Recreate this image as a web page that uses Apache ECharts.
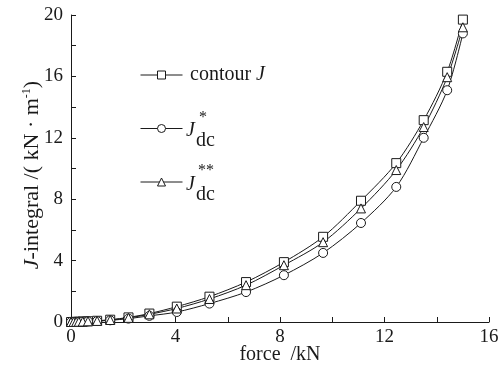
<!DOCTYPE html>
<html>
<head>
<meta charset="utf-8">
<script src="https://cdn.jsdelivr.net/npm/echarts@6/dist/echarts.min.js"></script>
<style>html,body{margin:0;padding:0;background:#fff;}#c{width:504px;height:366px;}</style>
</head>
<body>
<div id="c"></div>
<script>
var force = [0, 0.1, 0.2, 0.3, 0.45, 0.65, 1.0, 1.5, 2.2, 3.0, 4.05, 5.3, 6.7, 8.15, 9.65, 11.1, 12.45, 13.5, 14.4, 15.0];
var contourJ = [0, 0.005, 0.01, 0.02, 0.03, 0.05, 0.08, 0.15, 0.3, 0.55, 1.0, 1.65, 2.6, 3.9, 5.55, 7.9, 10.35, 13.15, 16.3, 19.7];
var Jdc1 = [0, 0.004, 0.008, 0.015, 0.025, 0.04, 0.06, 0.11, 0.22, 0.4, 0.65, 1.2, 1.95, 3.05, 4.5, 6.45, 8.8, 12.0, 15.1, 18.8];
var Jdc2 = [0, 0.005, 0.01, 0.018, 0.028, 0.045, 0.07, 0.13, 0.27, 0.5, 0.88, 1.5, 2.4, 3.7, 5.2, 7.4, 9.9, 12.7, 15.95, 19.2];
var seriesNames = ['contour J', 'J*dc', 'J**dc'];
var xTicks = [0, 4, 8, 12, 16];
var yTicks = [0, 4, 8, 12, 16, 20];

function pairs(ys) { return force.map(function (f, i) { return [f, ys[i]]; }); }
var FONT = '"Liberation Serif", "Times New Roman", serif';
var INK = '#1a1a1a';

function mkSeries(name, ys, symbol) {
  return {
    name: name, type: 'line', data: pairs(ys), smooth: 0.3,
    symbol: symbol, symbolSize: 9, clip: false,
    lineStyle: { color: INK, width: 1 },
    itemStyle: { color: '#fff', borderColor: INK, borderWidth: 1 },
    emphasis: { disabled: true }
  };
}

var chart = echarts.init(document.getElementById('c'), null, { renderer: 'canvas' });
chart.setOption({
  animation: false,
  backgroundColor: '#fff',
  grid: { left: 71, right: 15, top: 15, bottom: 44, containLabel: false, outerBoundsMode: 'none' },
  xAxis: {
    type: 'value', min: xTicks[0], max: xTicks[xTicks.length - 1], interval: 4,
    name: 'force  /kN', nameLocation: 'middle', nameGap: 23, nameMoveOverlap: false,
    nameTextStyle: { fontFamily: FONT, fontSize: 20, color: INK },
    axisLine: { lineStyle: { color: INK, width: 1 } },
    axisTick: { inside: true, length: 5, lineStyle: { color: INK } },
    minorTick: { show: true, splitNumber: 2, length: 5, lineStyle: { color: INK } },
    splitLine: { show: false },
    axisLabel: { fontFamily: FONT, fontSize: 19, color: INK, margin: 6 }
  },
  yAxis: {
    type: 'value', min: yTicks[0], max: yTicks[yTicks.length - 1], interval: 4,
    axisLine: { show: true, lineStyle: { color: INK, width: 1 } },
    axisTick: { inside: true, length: 5, lineStyle: { color: INK } },
    minorTick: { show: true, splitNumber: 2, length: 5, lineStyle: { color: INK } },
    splitLine: { show: false },
    axisLabel: { fontFamily: FONT, fontSize: 19, color: INK, margin: 8 }
  },
  legend: {
    orient: 'vertical', left: 140, top: 70, padding: 0,
    itemWidth: 42, itemHeight: 10, itemGap: 44,
    data: seriesNames,
    formatter: function () { return ''; },
    textStyle: { fontSize: 10 },
    lineStyle: { width: 1, color: INK },
    itemStyle: { borderWidth: 1 },
    selectedMode: false
  },
  graphic: [
    { type: 'text', x: 32, y: 175, rotation: Math.PI / 2,
      style: { text: '{i|J}-integral /( kN · m{sup|-1})', fontFamily: FONT, fontSize: 22, fill: INK,
        align: 'center', verticalAlign: 'middle',
        rich: {
          i: { fontFamily: FONT, fontSize: 22, fontStyle: 'italic', fill: INK },
          sup: { fontFamily: FONT, fontSize: 12, fill: INK, padding: [0, 0, 10, 0] }
        } } },
    { type: 'text', left: 190, top: 65, style: { text: 'contour {i|J}', fontFamily: FONT, fontSize: 20, fill: INK,
      rich: { i: { fontFamily: FONT, fontSize: 20, fontStyle: 'italic', fill: INK } } } },
    { type: 'text', left: 186, top: 121, style: { text: 'J', fontFamily: FONT, fontSize: 20, fontStyle: 'italic', fill: INK } },
    { type: 'text', left: 199, top: 110, style: { text: '*', fontFamily: FONT, fontSize: 16, fill: INK } },
    { type: 'text', left: 196, top: 131, style: { text: 'dc', fontFamily: FONT, fontSize: 20, fill: INK } },
    { type: 'text', left: 186, top: 175, style: { text: 'J', fontFamily: FONT, fontSize: 20, fontStyle: 'italic', fill: INK } },
    { type: 'text', left: 198, top: 163, style: { text: '**', fontFamily: FONT, fontSize: 16, fill: INK } },
    { type: 'text', left: 196, top: 185, style: { text: 'dc', fontFamily: FONT, fontSize: 20, fill: INK } }
  ],
  series: [
    mkSeries(seriesNames[0], contourJ, 'rect'),
    mkSeries(seriesNames[1], Jdc1, 'circle'),
    mkSeries(seriesNames[2], Jdc2, 'triangle')
  ]
});
</script>
</body>
</html>
